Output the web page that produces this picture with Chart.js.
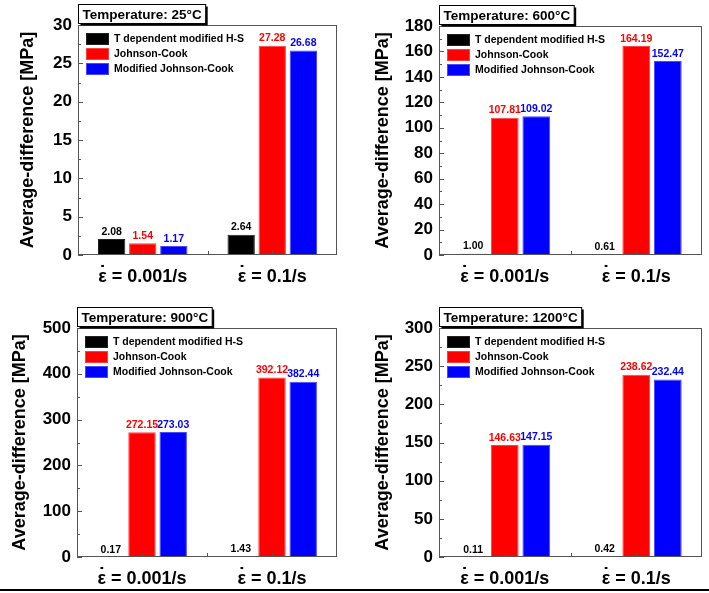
<!DOCTYPE html>
<html><head><meta charset="utf-8">
<script src="https://cdn.jsdelivr.net/npm/chart.js@4.4.0/dist/chart.umd.min.js"></script>
<style>
html,body{margin:0;padding:0;background:#fff;}
#wrap{position:relative;width:709px;height:593px;overflow:hidden;background:#fff;}
canvas{position:absolute;}
#line{position:absolute;left:0;top:589px;width:709px;height:2px;background:#000;}
</style></head><body>
<div id="wrap">
<canvas id="c25" width="355" height="295" style="left:0px;top:0px"></canvas>
<canvas id="c600" width="354" height="295" style="left:355px;top:0px"></canvas>
<canvas id="c900" width="355" height="295" style="left:0px;top:295px"></canvas>
<canvas id="c1200" width="354" height="295" style="left:355px;top:295px"></canvas>
<div id="line"></div>
</div>
<script>
const categories = ['ε = 0.001/s', 'ε = 0.1/s'];
const seriesNames = ['T dependent modified H-S', 'Johnson-Cook', 'Modified Johnson-Cook'];

const hs25 = [2.08, 2.64];
const jc25 = [1.54, 27.28];
const mjc25 = [1.17, 26.68];

const hs600 = [1.00, 0.61];
const jc600 = [107.81, 164.19];
const mjc600 = [109.02, 152.47];

const hs900 = [0.17, 1.43];
const jc900 = [272.15, 392.12];
const mjc900 = [273.03, 382.44];

const hs1200 = [0.11, 0.42];
const jc1200 = [146.63, 238.62];
const mjc1200 = [147.15, 232.44];

const titles = ['Temperature: 25°C', 'Temperature: 600°C', 'Temperature: 900°C', 'Temperature: 1200°C'];
const yMax = [30, 180, 500, 300];
const yStep = [5, 20, 100, 50];

const FONT = "'Liberation Sans', Arial, sans-serif";
const fillColors = ['#000000', '#ff0000', '#0000ff'];
const edgeColors = ['#222222', '#ff4040', '#4848ff'];
const labelColors = ['#000000', '#ff0000', '#0000ff'];

const framePlugin = {
  id: 'frame',
  afterDatasetsDraw(chart) {
    const {ctx, chartArea: a, scales: {x, y}} = chart;
    ctx.save();
    ctx.strokeStyle = '#555';
    ctx.lineWidth = 1;
    const step = chart.options.scales.y.ticks.stepSize;
    for (let k = 0; k * step / 2 <= y.max + 1e-9; k++) {
      const v = k * step / 2;
      const py = Math.round(y.getPixelForValue(v)) + 0.5;
      const len = (k % 2 === 0) ? 5 : 3;
      ctx.beginPath(); ctx.moveTo(a.left, py); ctx.lineTo(a.left + len, py); ctx.stroke();
    }
    const n = chart.data.labels.length;
    const xs = [];
    for (let i = 0; i < n; i++) xs.push(x.getPixelForValue(i));
    for (let i = 0; i < n - 1; i++) xs.push((x.getPixelForValue(i) + x.getPixelForValue(i + 1)) / 2);
    xs.forEach(px => {
      const p = Math.round(px) + 0.5;
      ctx.beginPath(); ctx.moveTo(p, a.bottom); ctx.lineTo(p, a.bottom - 4); ctx.stroke();
    });
    ctx.strokeRect(a.left + 0.5, a.top + 0.5, a.width - 1, a.height - 1);
    // value labels
    ctx.font = "bold 10.5px " + FONT;
    ctx.textAlign = 'center';
    ctx.textBaseline = 'bottom';
    chart.data.datasets.forEach((ds, di) => {
      const meta = chart.getDatasetMeta(di);
      meta.data.forEach((el, i) => {
        ctx.fillStyle = labelColors[di];
        ctx.fillText(ds.data[i].toFixed(2), el.x, el.y - 2);
      });
    });
    // x category labels with rate dot over epsilon
    ctx.fillStyle = '#000';
    ctx.textBaseline = 'alphabetic';
    chart.data.labels.forEach((lab, i) => {
      ctx.font = "bold 18px " + FONT;
      ctx.textAlign = 'left';
      const cx = x.getPixelForValue(i);
      const w = ctx.measureText(lab).width;
      const x0 = cx - w / 2;
      const by = a.bottom + 27;
      ctx.fillText(lab, x0, by);
      const ew = ctx.measureText('ε').width;
      ctx.font = "bold 20px " + FONT;
      ctx.textAlign = 'center';
      ctx.fillText('\u02D9', x0 + ew / 2, by - 2);
    });
    // legend inside plot area
    ctx.font = "bold 10.5px " + FONT;
    ctx.textAlign = 'left';
    ctx.textBaseline = 'middle';
    chart.data.datasets.forEach((ds, di) => {
      const lx = a.left + 8, ly = a.top + 8 + di * 15;
      ctx.fillStyle = fillColors[di];
      ctx.fillRect(lx, ly, 23, 12);
      ctx.strokeStyle = edgeColors[di];
      ctx.strokeRect(lx + 0.5, ly + 0.5, 22, 11);
      ctx.fillStyle = '#000';
      ctx.fillText(ds.label, lx + 28, ly + 6.5);
    });
    ctx.restore();
  },
  afterDraw(chart) {
    const {ctx, chartArea: a} = chart;
    const t = chart.options.plugins.boxTitle.text;
    ctx.save();
    ctx.font = "bold 13.5px " + FONT;
    const w = ctx.measureText(t).width + 8;
    const h = 19;
    const bx = a.left + 0.5, by = a.top - 2 - h + 0.5;
    ctx.fillStyle = '#000';
    ctx.fillRect(bx + 2, by + 2, w, h);
    ctx.fillStyle = '#fff';
    ctx.fillRect(bx, by, w, h);
    ctx.strokeStyle = '#000';
    ctx.lineWidth = 1;
    ctx.strokeRect(bx, by, w, h);
    ctx.fillStyle = '#000';
    ctx.textAlign = 'center';
    ctx.textBaseline = 'middle';
    ctx.fillText(t, bx + w / 2, by + h / 2 + 1);
    ctx.restore();
  }
};

function makeChart(id, idx, hs, jc, mjc, box) {
  const cv = document.getElementById(id);
  const W = cv.width, H = cv.height;
  const vals = [hs, jc, mjc];
  return new Chart(cv, {
    type: 'bar',
    data: {
      labels: categories,
      datasets: vals.map((d, i) => ({
        label: seriesNames[i],
        data: d,
        backgroundColor: fillColors[i],
        borderColor: edgeColors[i],
        borderWidth: 1,
        categoryPercentage: 0.72,
        barPercentage: 0.88
      }))
    },
    options: {
      responsive: false,
      animation: false,
      devicePixelRatio: 1,
      layout: {padding: {left: 0, top: box.top, right: W - box.right, bottom: 0}},
      plugins: {
        legend: {display: false},
        tooltip: {enabled: false},
        boxTitle: {text: titles[idx]}
      },
      scales: {
        x: {
          grid: {display: false, drawTicks: false},
          border: {display: false},
          ticks: {display: false},
          afterFit(s) { s.height = H - box.bottom; }
        },
        y: {
          min: 0, max: yMax[idx],
          grid: {display: false, drawTicks: false},
          border: {display: false},
          ticks: {stepSize: yStep[idx], color: '#000', padding: 6, font: {family: FONT, size: 17, weight: 'bold'}},
          title: {display: true, text: 'Average-difference [MPa]', color: '#000',
                  font: {family: FONT, size: 18, weight: 'bold'}, padding: {top: box.tpad, bottom: 0}},
          afterFit(s) { s.width = box.left; }
        }
      }
    },
    plugins: [framePlugin]
  });
}

makeChart('c25', 0, hs25, jc25, mjc25, {left: 78, right: 337, top: 25, bottom: 255, tpad: 17});
makeChart('c600', 1, hs600, jc600, mjc600, {left: 84, right: 347, top: 26, bottom: 255, tpad: 17});
makeChart('c900', 2, hs900, jc900, mjc900, {left: 77, right: 337, top: 33, bottom: 262, tpad: 9});
makeChart('c1200', 3, hs1200, jc1200, mjc1200, {left: 84, right: 347, top: 33, bottom: 262, tpad: 17});
</script>
</body></html>
